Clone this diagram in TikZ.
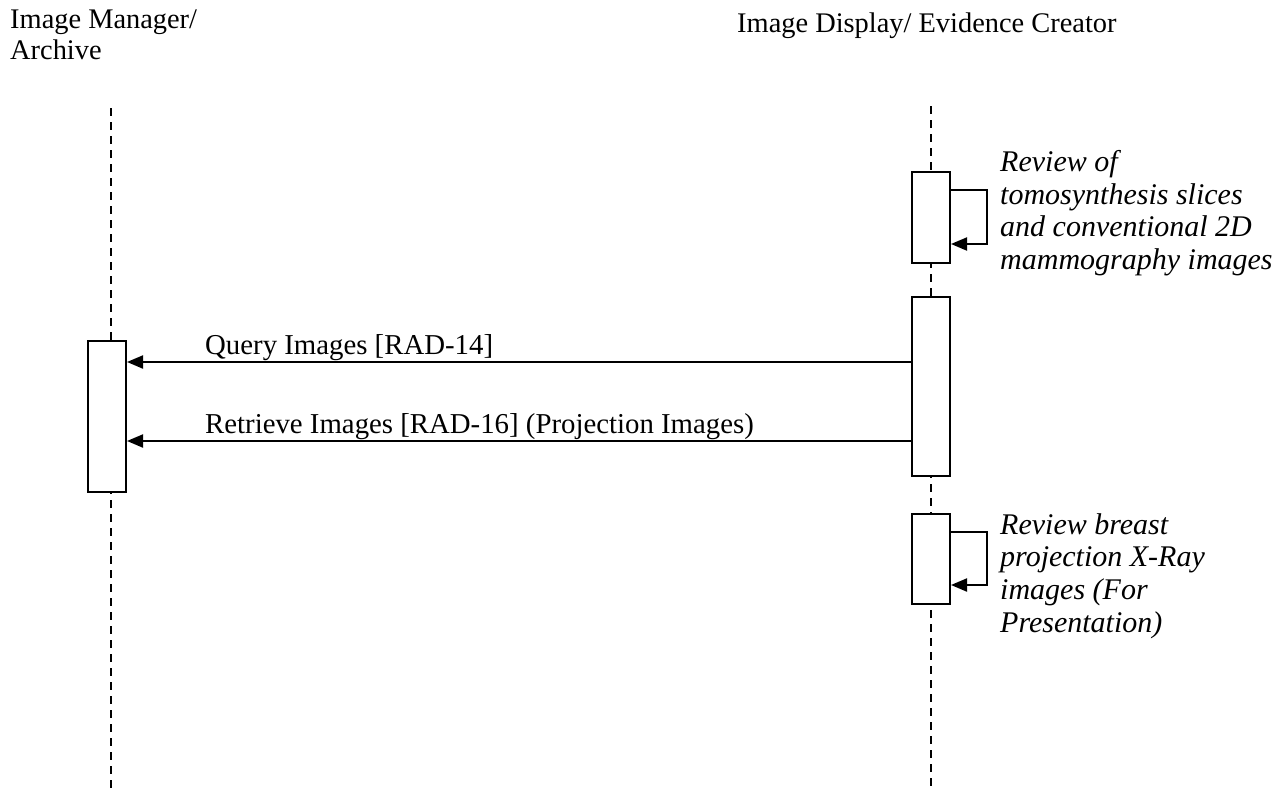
\documentclass[tikz,border=0pt]{standalone}
\usepackage{fontspec}
\setmainfont{Liberation Serif}
\usetikzlibrary{arrows.meta,calc}
\begin{document}
\begin{tikzpicture}[x=1pt,y=-1pt,
  lifeline/.style={line width=1.5pt,dash pattern=on 8pt off 6pt},
  actbox/.style={draw,line width=2pt,fill=white,minimum width=38pt,inner sep=0pt},
  msg/.style={line width=2pt,-{Triangle[length=16pt,width=13pt]}},
  hdr/.style={font=\fontsize{28.4}{30.5}\selectfont,inner sep=0pt},
  lbl/.style={font=\fontsize{28.8}{31}\selectfont,inner sep=0pt},
  note/.style={font=\fontsize{30}{32.7}\selectfont\itshape,inner sep=0pt,align=left,anchor=north west}]
\useasboundingbox (0,0) rectangle (1286,790);
% headers
\node[hdr,anchor=north west,align=left] (hA) at (10,10) {Image Manager/\\Archive};
\node[hdr,anchor=base west] (hB) at (737,32) {Image Display/ Evidence Creator};
% lifelines
\coordinate (lA0) at (111,108);
\coordinate (lA1) at (111,790);
\coordinate (lB0) at (931,106);
\coordinate (lB1) at (931,790);
\draw[lifeline] (lA0) -- (lA1);
\draw[lifeline] (lB0) -- (lB1);
% activation boxes
\node[actbox,minimum height=91pt,anchor=north] (b1) at (931,171) {};
\node[actbox,minimum height=179pt,anchor=north] (b2) at (931,296) {};
\node[actbox,minimum height=90pt,anchor=north] (b3) at (931,513) {};
\node[actbox,minimum height=151pt,anchor=north] (bA) at (107,340) {};
% self messages
\coordinate (s1a) at ($(b1.north east)+(0,19)$);
\coordinate (s1b) at ($(b1.north east)+(0,73)$);
\draw[msg] (s1a) -- ++(36,0) |- (s1b);
\coordinate (s3a) at ($(b3.north east)+(0,19)$);
\coordinate (s3b) at ($(b3.north east)+(0,72)$);
\draw[msg] (s3a) -- ++(36,0) |- (s3b);
% notes
\node[note] (n1) at (1000,150) {Review of\\tomosynthesis slices\\and conventional 2D\\mammography images};
\node[note] (n3) at (1000,513) {Review breast\\projection X-Ray\\images (For\\Presentation)};
% messages
\coordinate (q0) at ($(b2.north west)+(0,66)$);
\coordinate (r0) at ($(b2.north west)+(0,145)$);
\draw[msg] (q0) -- (q0 -| bA.east) coordinate (q1);
\draw[msg] (r0) -- (r0 -| bA.east) coordinate (r1);
\node[lbl,anchor=base west] (ql) at (205,354) {Query Images [RAD-14]};
\node[lbl,anchor=base west] (rl) at (205,433) {Retrieve Images [RAD-16] (Projection Images)};
\end{tikzpicture}
\end{document}
